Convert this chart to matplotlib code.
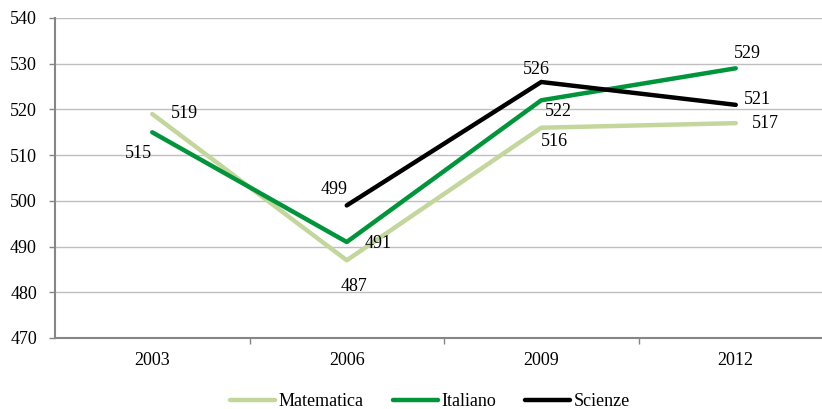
import matplotlib
matplotlib.use("Agg")
import matplotlib.pyplot as plt
from matplotlib.ticker import FixedLocator

years = ["2003", "2006", "2009", "2012"]
matematica = [519, 487, 516, 517]
italiano = [515, 491, 522, 529]
scienze = [None, 499, 526, 521]

plt.rcParams['font.family'] = ['Liberation Serif', 'DejaVu Serif']
FS = 13

W, H = 822, 409
fig = plt.figure(figsize=(W / 100, H / 100), dpi=100)
ax = fig.add_axes([55 / W, 71 / H, 778 / W, 320 / H])

x = list(range(len(years)))
c_mat = "#C3D69B"
c_ita = "#00953A"
c_sci = "#000000"

ax.plot(x, matematica, color=c_mat, lw=3.2, solid_capstyle="round", label="Matematica", zorder=3)
ax.plot(x, italiano, color=c_ita, lw=3.2, solid_capstyle="round", label="Italiano", zorder=4)
xs = [xi for xi, v in zip(x, scienze) if v is not None]
vs = [v for v in scienze if v is not None]
ax.plot(xs, vs, color=c_sci, lw=3.2, solid_capstyle="round", label="Scienze", zorder=5)

# label offsets in pixels (dx right, dy up)
off_mat = [(32, 0), (7, -26), (13, -14), (30, 0)]
off_ita = [(-14, -21), (31, -2), (17, -11), (12, 15)]
off_sci = [None, (-13, 16), (-5, 13), (22, 5)]

for series, offs in ((matematica, off_mat), (italiano, off_ita), (scienze, off_sci)):
    for xi, v, o in zip(x, series, offs):
        if v is None:
            continue
        ax.annotate(str(v), (xi, v), xytext=o, textcoords="offset pixels",
                    ha="center", va="center", fontsize=FS, color="black", zorder=6)

ax.set_xlim(-0.5, 3.5)
ax.set_ylim(470, 540)
ax.set_yticks(range(470, 541, 10))
ax.set_xticks(x)
ax.set_xticklabels(years)
ax.xaxis.set_minor_locator(FixedLocator([0.5, 1.5, 2.5]))

ax.grid(axis="y", color="#BFBFBF", lw=1.0, zorder=0)
ax.set_axisbelow(True)
for s in ("top", "right"):
    ax.spines[s].set_visible(False)
for s in ("left", "bottom"):
    ax.spines[s].set_color("#868686")
    ax.spines[s].set_linewidth(1.5)

ax.tick_params(axis="y", length=4, width=1, color="#868686", pad=9, labelsize=FS)
ax.tick_params(axis="x", which="major", length=0, pad=10, labelsize=FS)
ax.tick_params(axis="x", which="minor", length=4, width=1, color="#868686")

leg = fig.legend(loc="center", bbox_to_anchor=(430 / W, 1 - 402 / H), ncol=3, frameon=False,
                 fontsize=FS, handlelength=2.5, handletextpad=0.2, columnspacing=1.6)

fig.savefig("out.png", dpi=100)
